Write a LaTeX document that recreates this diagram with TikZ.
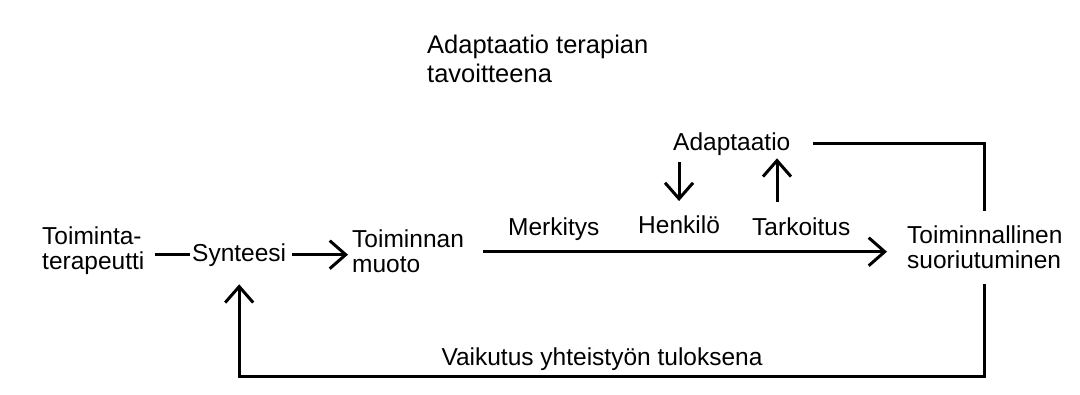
\documentclass[tikz,border=0pt]{standalone}
\usepackage{fontspec}
\setmainfont{Liberation Sans}
\usetikzlibrary{positioning,arrows.meta}

\begin{document}
\begin{tikzpicture}[x=1pt,y=-1pt]
\tikzstyle{txt}=[inner sep=0pt,align=left,font=\fontsize{24.5}{25}\selectfont]
\tikzstyle{line}=[line width=3pt]
\tikzstyle{arr}=[line width=3pt,-{Straight Barb[length=16pt,width=28pt]}]
\useasboundingbox (0,0) rectangle (1080,394);
    \node[txt,anchor=north west,font=\fontsize{25.5}{29}\selectfont] (title) at (427,35) {Adaptaatio terapian\\tavoitteena};
    \node[txt,anchor=north west] (toimter) at (42,227) {Toiminta-\\terapeutti};
    \node[txt,anchor=base west] (synt) at (192,261) {Synteesi};
    \node[txt,anchor=north west] (muoto) at (352,230) {Toiminnan\\muoto};
    \node[txt,anchor=base west] (merk) at (508,235) {Merkitys};
    \node[txt,anchor=base west] (henk) at (638,233) {Henkilö};
    \node[txt,anchor=base west] (tark) at (752,235) {Tarkoitus};
    \node[txt,anchor=base west] (adapt) at (673,150) {Adaptaatio};
    \node[txt,anchor=north west,inner ysep=15pt] (suor) at (907,211) {Toiminnallinen\\suoriutuminen};
    \node[txt,anchor=base] (vaik) at (602,365) {Vaikutus yhteistyön tuloksena};
    \coordinate (bot) at (602,376);
    % main line
    \draw[line] ([xshift=10pt]toimter.east |- synt.west) -- ([xshift=-2pt]synt.west);
    \draw[arr] ([xshift=6pt]synt.east) -- ([xshift=-4pt]synt.east -| muoto.west);
    \draw[arr,shorten <=19pt,shorten >=20pt] (muoto.east) -- (muoto.east -| suor.west);
    % adaptaatio
    \draw[arr,shorten <=7pt,shorten >=14pt] (adapt.south -| henk.north) -- (henk.north);
    \draw[arr,shorten <=15pt,shorten >=3pt] ([xshift=25pt]tark.north west) -- ([xshift=25pt]tark.north west |- adapt.south);
    \draw[line] ([xshift=22pt]adapt.east) -| (suor.north);
    % feedback
    \draw[arr,shorten >=18pt] (suor.south) |- (bot) -| (synt.south);
\end{tikzpicture}
\end{document}
